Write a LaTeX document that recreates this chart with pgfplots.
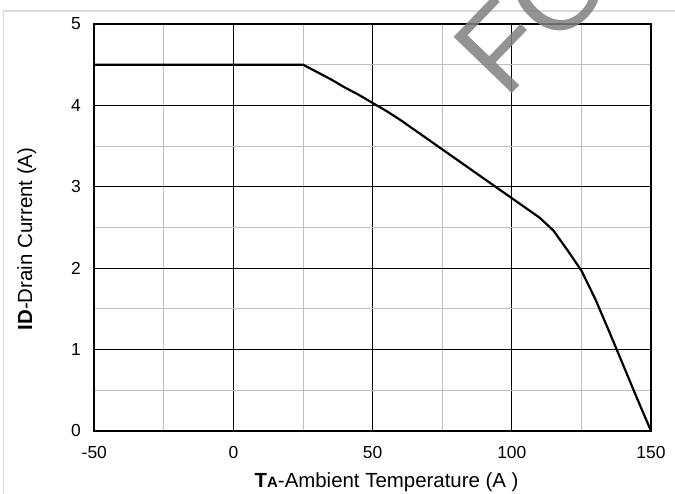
\documentclass[border=0pt]{standalone}
\usepackage{pgfplots}
\pgfplotsset{compat=1.18}
\usepackage{fontspec}
\setmainfont{Liberation Sans}
\definecolor{mgrid}{RGB}{192,192,192}
\definecolor{frame}{RGB}{217,217,217}
\definecolor{wmark}{RGB}{128,128,128}
\begin{document}
\begin{tikzpicture}[x=1bp,y=1bp]
\path[use as bounding box] (0,0) rectangle (675,494);
\draw[frame,line width=1.2bp] (3.4,0) -- (3.4,483) -- (676,483);
\begin{axis}[
  at={(94.3bp,63bp)}, anchor=south west,
  scale only axis, width=556.7bp, height=407bp,
  xmin=-50, xmax=150, ymin=0, ymax=5,
  xtick={-50,0,50,100,150}, ytick={0,1,2,3,4,5},
  minor x tick num=1, minor y tick num=1,
  grid=both,
  major grid style={black, line width=0.9bp},
  minor grid style={mgrid, line width=0.9bp},
  major tick length=0, minor tick length=0,
  axis line style={black, line width=2.2bp},
  tick label style={font=\fontsize{17.5}{20}\selectfont},
  /pgf/number format/assume math mode=true,
  xticklabel style={yshift=-12bp},
  yticklabel style={xshift=-10bp},
  xlabel={\textbf{T{\fontsize{15}{17}\selectfont A}}-Ambient Temperature (A )},
  ylabel={\textbf{ID}-Drain Current (A)},
  label style={font=\fontsize{20.5}{23}\selectfont},
  xlabel style={at={(axis description cs:0.5251,-0.1376)}, anchor=base},
  ylabel style={at={(axis description cs:-0.1119,0.4717)}, anchor=base},
  clip=false,
]
\addplot[black, line width=2.2bp, line join=round] coordinates {
(-50,4.5) (25,4.5) (30,4.41) (35,4.32) (40,4.22) (45,4.13) (50,4.03) (55,3.93)
(60,3.82) (65,3.70) (70,3.58) (75,3.46) (80,3.34) (85,3.22) (90,3.10) (95,2.98)
(100,2.86) (105,2.74) (110,2.62) (115,2.46) (120,2.22) (125,1.97)
(130,1.62) (135,1.22) (140,0.81) (145,0.40) (150,0)
};
\end{axis}
\begin{scope}
\clip (0,0) rectangle (675,494);
\node[wmark, opacity=0.85, rotate=46, anchor=base west, inner sep=0pt,
  font=\fontsize{118}{120}\selectfont] at (505,393) {FO};
\end{scope}
\end{tikzpicture}
\end{document}
